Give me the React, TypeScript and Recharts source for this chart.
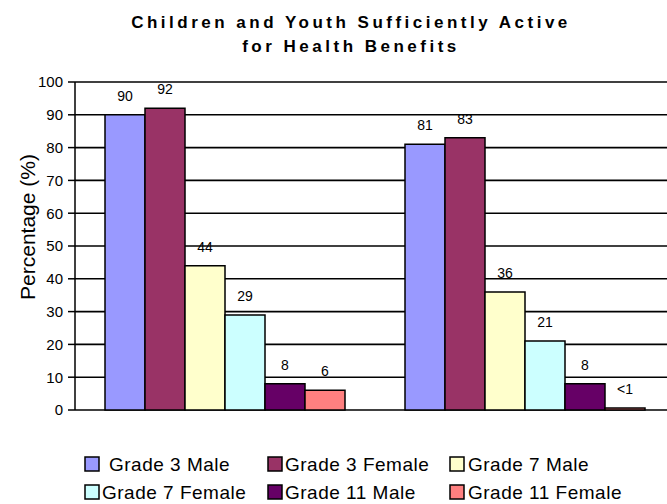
import React from "react";
import { BarChart, Bar, XAxis, YAxis, CartesianGrid, LabelList, Label } from "recharts";

const categories = ["2001", "2005"];
const seriesNames = [
  "Grade 3 Male",
  "Grade 3 Female",
  "Grade 7 Male",
  "Grade 7 Female",
  "Grade 11 Male",
  "Grade 11 Female",
];
const grade3Male = [90, 81];
const grade3Female = [92, 83];
const grade7Male = [44, 36];
const grade7Female = [29, 21];
const grade11Male = [8, 8];
const grade11Female = [6, 0.6];
const yTicks = [0, 10, 20, 30, 40, 50, 60, 70, 80, 90, 100];
const seriesColors = ["#9999FF", "#993366", "#FFFFCC", "#CCFFFF", "#660066", "#FF8080"];
const titleLines = ["Children and Youth Sufficiently Active", "for Health Benefits"];
const yLabel = "Percentage (%)";

const seriesValues = [grade3Male, grade3Female, grade7Male, grade7Female, grade11Male, grade11Female];
const data = categories.map((c, i) => {
  const row: Record<string, any> = { category: c };
  seriesNames.forEach((_, j) => {
    row["s" + j] = seriesValues[j][i];
  });
  return row;
});

const FONT = "'Liberation Sans', Arial, sans-serif";

// legend layout (style only)
const legendColX = [85, 268, 450];
const legendRowY = [464, 492];
const legendTextGap = [10, 3, 4, 3, 3, 4];

const fmt = (v: any) => (typeof v === "number" && v < 1 ? "<1" : v);

export default function App() {
  return (
    <div
      style={{
        position: "absolute",
        left: 0,
        top: 0,
        width: 667,
        height: 504,
        overflow: "hidden",
        background: "#fff",
        fontFamily: FONT,
      }}
    >
      <BarChart
        width={683}
        height={504}
        data={data}
        margin={{ top: 82, right: 8, bottom: 94, left: 0 }}
        barCategoryGap="10%"
        barGap={0}
        style={{ fontFamily: FONT }}
      >
        <CartesianGrid vertical={false} stroke="#000" strokeWidth={1.6} strokeOpacity={1} />
        <XAxis
          dataKey="category"
          height={0}
          axisLine={{ stroke: "#000", strokeWidth: 1.5 }}
          tickLine={{ stroke: "#000", strokeWidth: 1.5 }}
          tickSize={5}
          tickMargin={15}
          tick={{ fill: "#000", fontSize: 14, fontFamily: FONT }}
        />
        <XAxis
          xAxisId="edges"
          type="number"
          domain={[0, 2]}
          ticks={[0, 1, 2]}
          height={0}
          axisLine={false}
          tick={false}
          tickLine={{ stroke: "#000", strokeWidth: 1.5 }}
          tickSize={5}
        />
        <YAxis
          width={75}
          domain={[0, 100]}
          ticks={yTicks}
          interval={0}
          axisLine={{ stroke: "#000", strokeWidth: 1.5 }}
          tickLine={{ stroke: "#000", strokeWidth: 1.5 }}
          tickSize={7}
          tickMargin={5}
          tick={{ fill: "#000", fontSize: 15, fontFamily: FONT }}
        >
          <Label
            content={() => (
              <text
                x={27}
                y={227}
                transform="rotate(-90 27 227)"
                textAnchor="middle"
                dominantBaseline="central"
                fontSize={21}
                fontFamily={FONT}
                fill="#000"
              >
                {yLabel}
              </text>
            )}
          />
        </YAxis>
        {seriesNames.map((name, j) => (
          <Bar
            key={name}
            dataKey={"s" + j}
            name={name}
            fill={seriesColors[j]}
            stroke="#000"
            strokeWidth={1.5}
            isAnimationActive={false}
          >
            <LabelList
              dataKey={"s" + j}
              position="top"
              offset={14}
              formatter={fmt}
              fill="#000"
              fontSize={14}
              fontFamily={FONT}
            />
          </Bar>
        ))}
      </BarChart>
      <svg
        width={667}
        height={504}
        style={{ position: "absolute", left: 0, top: 0, pointerEvents: "none" }}
      >
        {titleLines.map((t, i) => (
          <text
            key={t}
            x={351}
            y={28 + i * 24}
            textAnchor="middle"
            fontSize={17}
            fontWeight="bold"
            letterSpacing={3.5}
            fontFamily={FONT}
            fill="#000"
          >
            {t}
          </text>
        ))}
        {seriesNames.map((name, j) => {
          const col = j % 3;
          const row = Math.floor(j / 3);
          const x = legendColX[col];
          const y = legendRowY[row];
          return (
            <g key={name}>
              <rect x={x} y={y - 7} width={14} height={14} fill={seriesColors[j]} stroke="#000" strokeWidth={1.5} />
              <text
                x={x + 14 + legendTextGap[j]}
                y={y}
                dominantBaseline="central"
                fontSize={19}
                letterSpacing={0.5}
                fontFamily={FONT}
                fill="#000"
              >
                {name}
              </text>
            </g>
          );
        })}
      </svg>
    </div>
  );
}
